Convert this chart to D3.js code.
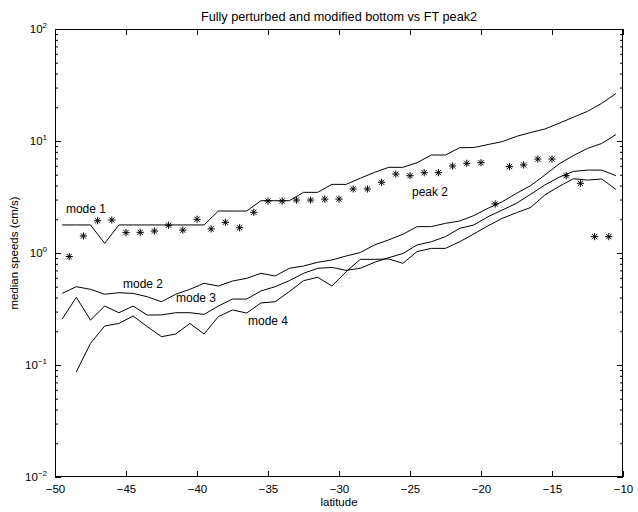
<!DOCTYPE html>
<html><head><meta charset="utf-8">
<script src="https://cdn.jsdelivr.net/npm/d3@7"></script>
<style>
body{margin:0;background:#fff}
svg{display:block}
text{font-family:"Liberation Sans",Arial,Helvetica,sans-serif;fill:#000}
</style>
</head><body>
<svg id="c" width="638" height="512"></svg>
<script>
// ---- data ----
const lineLat = [-49.5,-48.5,-47.5,-46.5,-45.5,-44.5,-43.5,-42.5,-41.5,-40.5,-39.5,-38.5,-37.5,-36.5,-35.5,-34.5,-33.5,-32.5,-31.5,-30.5,-29.5,-28.5,-27.5,-26.5,-25.5,-24.5,-23.5,-22.5,-21.5,-20.5,-19.5,-18.5,-17.5,-16.5,-15.5,-14.5,-13.5,-12.5,-11.5,-10.5];
const mode1 = [1.78,1.78,1.78,1.22,1.78,1.78,1.78,1.78,1.78,1.78,1.78,2.37,2.37,2.37,2.93,2.93,2.93,3.48,3.48,4.10,4.10,4.65,5.25,5.82,5.82,6.40,7.50,7.50,8.71,8.75,9.3,9.87,11.0,11.9,12.8,14.4,16.3,18.4,21.7,26.5];
const mode2 = [0.436,0.50,0.474,0.428,0.442,0.436,0.407,0.367,0.428,0.474,0.536,0.507,0.562,0.594,0.659,0.623,0.730,0.765,0.826,0.866,0.940,1.01,1.18,1.31,1.47,1.72,1.72,1.84,1.93,2.16,2.51,2.87,3.41,4.0,4.97,6.25,7.4,8.6,9.5,11.4];
const mode3 = [0.256,0.402,0.252,0.336,0.293,0.336,0.279,0.28,0.293,0.293,0.283,0.336,0.388,0.388,0.458,0.50,0.566,0.659,0.730,0.744,0.70,0.730,0.826,0.908,0.99,1.18,1.26,1.40,1.66,1.78,2.11,2.42,2.78,3.35,4.05,4.75,5.35,5.5,5.5,4.9];
const mode4 = [null,0.087,0.156,0.223,0.235,0.274,0.220,0.179,0.189,0.235,0.189,0.270,0.310,0.291,0.358,0.367,0.452,0.566,0.607,0.507,0.68,0.878,0.878,0.885,0.809,1.03,1.10,1.10,1.26,1.48,1.75,2.04,2.29,2.55,3.30,3.93,4.6,4.48,4.58,3.7];
const peakLat = [-49,-48,-47,-46,-45,-44,-43,-42,-41,-40,-39,-38,-37,-36,-35,-34,-33,-32,-31,-30,-29,-28,-27,-26,-25,-24,-23,-22,-21,-20,-19,-18,-17,-16,-15,-14,-13,-12,-11];
const peak2 = [0.93,1.42,1.94,1.97,1.52,1.53,1.57,1.77,1.60,2.0,1.64,1.88,1.68,2.31,2.91,2.91,2.97,2.97,3.03,3.03,3.73,3.73,4.28,5.07,4.90,5.21,5.21,5.98,6.32,6.40,2.74,5.90,6.11,6.90,6.90,4.90,4.19,1.40,1.40];
const xTicks = [-50,-45,-40,-35,-30,-25,-20,-15,-10];
const yMajor = [0.01,0.1,1,10,100];
const yExp = ["\u22122","\u22121","0","1","2"];
const labels = [
  {t:"mode 1", lat:-49.23, v:2.28},
  {t:"mode 2", lat:-45.21, v:0.487},
  {t:"mode 3", lat:-41.48, v:0.365},
  {t:"mode 4", lat:-36.41, v:0.228},
  {t:"peak 2", lat:-24.86, v:3.23}
];
const title = "Fully perturbed and modified bottom vs FT peak2";

// ---- layout ----
const L=55, R=623, T=29, B=477;
const svg = d3.select("#c");
const x = d3.scaleLinear().domain([-50,-10]).range([L,R]);
const y = d3.scaleLog().domain([0.01,100]).range([B,T]);
const fs = 11.5;

// box
svg.append("rect").attr("x",L+0.5).attr("y",T+0.5).attr("width",R-L-1).attr("height",B-T-1)
  .attr("fill","none").attr("stroke","#000").attr("stroke-width",1);

const tk = 6, tkm = 3;
svg.append("g").attr("transform",`translate(0,${B})`)
  .call(d3.axisBottom(x).tickValues(xTicks).tickSize(-tk).tickPadding(8).tickFormat(d=>d3.format("d")(d).replace("-","\u2212")));
svg.append("g").attr("transform",`translate(0,${T})`)
  .call(d3.axisTop(x).tickValues(xTicks).tickSize(-tk).tickFormat(""));
const yMinor = y.ticks().filter(v=>!yMajor.some(m=>Math.abs(m-v)/m<1e-6));
[[L,d3.axisLeft],[R,d3.axisRight]].forEach(([pos,ax])=>{
  svg.append("g").attr("transform",`translate(${pos},0)`).call(ax(y).tickValues(yMajor).tickSize(-tk).tickFormat(""));
  svg.append("g").attr("transform",`translate(${pos},0)`).call(ax(y).tickValues(yMinor).tickSize(-tkm).tickFormat(""));
});
svg.selectAll(".domain").remove();
svg.selectAll(".tick line").attr("stroke","#000");
svg.selectAll("g text").attr("font-size",fs).attr("font-family","Liberation Sans, Arial, sans-serif");

// y labels with superscripts
const yl = svg.append("g");
yMajor.forEach((v,i)=>{
  const t = yl.append("text").attr("x",L-8).attr("y",y(v)+4).attr("text-anchor","end").attr("font-size",fs);
  t.append("tspan").text("10");
  t.append("tspan").attr("dy",-5).attr("font-size",8).text(yExp[i]);
});

// lines
const line = d3.line().defined(d=>d[1]!=null).x(d=>x(d[0])).y(d=>y(d[1]));
[mode1,mode2,mode3,mode4].forEach(s=>{
  svg.append("path").datum(lineLat.map((l,i)=>[l,s[i]])).attr("d",line)
    .attr("fill","none").attr("stroke","#000").attr("stroke-width",1);
});

// asterisks
const r=3.6, a=r*0.72;
const star = `M${-r},0H${r}M0,${-r}V${r}M${-a},${-a}L${a},${a}M${-a},${a}L${a},${-a}`;
svg.append("g").selectAll("path").data(peakLat.map((l,i)=>[l,peak2[i]])).join("path")
  .attr("transform",d=>`translate(${x(d[0])},${y(d[1])})`).attr("d",star)
  .attr("fill","none").attr("stroke","#000").attr("stroke-width",1);

// labels
svg.append("g").selectAll("text").data(labels).join("text")
  .attr("x",d=>x(d.lat)).attr("y",d=>y(d.v)).attr("font-size",12).text(d=>d.t);

// title & axis labels
svg.append("text").attr("x",(L+R)/2).attr("y",21).attr("text-anchor","middle").attr("font-size",12.7).text(title);
svg.append("text").attr("x",(L+R)/2).attr("y",506).attr("text-anchor","middle").attr("font-size",fs).text("latitude");
svg.append("text").attr("transform",`translate(18,${(T+B)/2}) rotate(-90)`).attr("text-anchor","middle").attr("font-size",fs).text("median speeds (cm/s)");
</script>
</body></html>
